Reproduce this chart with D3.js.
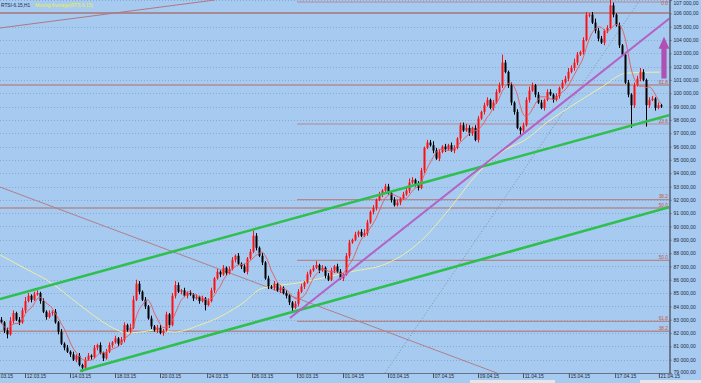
<!DOCTYPE html>
<html><head><meta charset="utf-8">
<script src="https://cdn.jsdelivr.net/npm/d3@7"></script>
<style>
html,body{margin:0;padding:0;background:#a6caf0;overflow:hidden}
svg{display:block}
text{font-family:"Liberation Sans",Arial,sans-serif}
</style></head><body>
<svg id="c" width="701" height="383"></svg>
<script>
// ---- DATA (prices in thousands of points) ----
const closes = [
82.8,82.2,81.9,82.9,83.5,83.0,82.8,83.7,84.4,84.8,
84.5,84.9,85.0,84.4,83.6,83.2,83.5,83.6,82.8,82.1,
81.2,80.9,80.6,80.4,80.0,80.3,79.6,79.4,80.0,80.3,
80.2,80.9,81.1,80.5,80.1,80.6,81.1,81.3,81.6,81.2,
81.5,82.6,82.2,82.4,84.5,85.7,85.1,84.5,84.0,83.1,
82.5,82.2,82.4,82.0,82.2,83.4,82.6,84.8,
85.6,85.1,85.2,84.8,85.0,84.9,84.6,84.7,84.4,84.6,
84.1,84.4,85.2,86.1,86.6,86.4,86.9,86.5,86.8,87.5,
87.8,87.2,87.0,86.6,87.6,88.1,89.3,88.4,87.8,87.3,
86.1,85.5,85.4,85.7,85.2,85.4,85.0,84.8,84.3,83.9,
84.2,85.1,85.5,85.8,86.4,86.7,86.9,87.1,86.7,86.9,
86.3,86.0,86.7,87.0,86.6,86.1,86.4,87.8,88.8,89.0,
89.4,89.6,89.3,89.5,90.3,91.1,91.4,92.0,92.4,92.7,
93.0,92.5,92.0,91.6,91.8,92.1,92.4,92.7,93.3,93.5,
93.2,92.9,94.2,95.9,96.3,96.1,95.7,95.1,95.6,96.0,
95.8,96.1,95.7,95.9,96.6,97.6,97.2,97.4,97.0,97.4,
96.5,98.1,98.6,99.1,99.5,98.9,99.3,100.1,100.6,102.3,
101.6,100.6,99.3,98.6,97.4,97.2,97.6,99.5,100.2,100.6,
99.9,99.3,98.9,99.5,100.1,99.9,99.5,99.8,100.4,100.8,
101.1,101.6,101.9,102.3,102.9,103.1,104.0,105.9,105.9,105.3,
104.7,104.1,103.8,104.7,104.9,106.6,105.9,105.1,103.6,102.9,
100.8,99.9,99.1,100.6,101.1,101.6,101.0,99.1,99.5,99.6,
98.9,99.1,99.0];
const firstOpen = 83.0;
// wick lengths in hundreds of points
const wickUp = [
2,1,2,3,2,1,2,2,3,2, 1,2,2,1,2,1,2,1,2,1, 2,1,2,1,2,1,2,1,2,2, 1,2,1,2,1,2,2,1,2,1,
2,2,1,3,3,3,2,1,2,1, 2,1,2,2,1,2,1,2,3,2, 1,2,1,2,1,2,1,2,1,2, 2,1,2,1,2,1,2,2,1,2,
1,2,1,2,4,2,1,2,1,2, 1,2,1,2,1,2,1,1,2,2, 2,1,2,1,2,3,1,2,1,2, 2,1,2,2,1,2,2,1,2,1,
2,3,2,1,2,1,2,1,2,2, 1,2,2,1,2,2,3,2,1,2, 2,1,2,2,3,2,2,1,2,1, 2,2,1,2,2,3,2,1,2,2,
1,2,2,1,2,2,2,6,2,1, 2,1,2,1,2,2,3,2,1,2, 2,1,2,2,1,2,1,2,2,3, 2,3,2,1,2,2,1,2,3,2,
2,1,2,4,2,1,2,1,2,2, 1,2,2,3,2,1,2,2,1,2, 1];
const wickDn = [
1,2,3,1,2,1,2,1,2,1, 2,1,1,2,1,2,1,2,1,2, 1,2,1,2,1,2,1,3,2,1, 2,1,2,1,2,1,1,2,1,2,
1,2,1,2,1,1,2,1,2,1, 2,1,2,1,2,1,2,1,2,1, 2,1,2,1,2,1,2,1,4,1, 1,2,1,2,1,2,1,1,2,1,
2,1,2,1,1,2,1,2,1,2, 1,2,1,2,1,2,2,3,1,2, 1,2,1,2,1,1,2,1,2,1, 1,2,1,1,2,1,2,1,1,2,
1,1,2,1,2,2,1,2,1,1, 2,1,1,2,1,1,2,1,2,2, 1,2,1,1,2,1,2,1,2,1, 1,2,1,2,1,1,2,2,1,2,
1,2,1,1,2,1,1,2,1,2, 2,2,1,3,2,1,2,1,2,1, 1,2,1,1,2,1,2,1,1,2, 1,2,2,1,2,1,2,1,2,2,
1,2,2,1,2,1,2,1,1,2, 17,2,1,2,1,16,2,1,2,1, 1];
// slow moving average: [bar index, price]
const slowMA = [[-0.3,87.86],[9,86.73],[15.3,85.98],[26.3,84.10],[33,82.98],[38.7,82.23],[42,82.0],
[46.3,82.07],[52,82.23],[57.7,82.07],[66.3,82.6],[70.7,82.98],[79.7,84.10],[87.3,85.38],[98.7,85.75],
[107.3,86.13],[116.3,86.58],[129.7,87.33],[140.3,88.98],[149.7,91.38],[159,94.01],[168,95.74],
[174.7,96.49],[183,97.99],[189.7,98.97],[199.7,100.39],[208.7,101.52],[219.7,101.59]];
const fastPeriod = 6;
const priceTicks = [79,80,81,82,83,84,85,86,87,88,89,90,91,92,93,94,95,96,97,98,99,100,101,102,103,104,105,106,107];
const dateLabels = ["10.03.15","12.03.15","14.03.15","18.03.15","20.03.15","24.03.15","26.03.15","30.03.15",
"01.04.15","03.04.15","07.04.15","09.04.15","11.04.15","15.04.15","17.04.15","21.04.15"];
const dateIdx = [-3,8,23,38,53,68.7,83.7,98.7,114,129,144,159,174,189.3,204.7,219.3];
const fibALevels = ["0.0","23.6","38.2","50.0","61.8"];
const fibAPrices = [106.85,97.69,92.02,87.45,82.87];
const fibAStart = 98.7;
const fibBLevels = ["61.8","50.0","38.2"];
const fibBPrices = [100.62,91.38,82.14];
const hLinePrice = 106.02;
const greenUpper = [[-0.33,84.55],[223,98.37]];
const greenLower = [[26.33,79.15],[223,91.46]];
const purpleLine = [[96.33,83.13],[223,105.65]];
const brownDown = [[-0.33,92.96],[165.3,79.0]];
const brownUp = [[-0.33,104.90],[71.3,107.0]];
const dottedLine = [[128,79.0],[213,107.0]];
const arrowIdx = 221, arrowFrom = 101.1, arrowTo = 104.25;

// ---- DRAW ----
const W = 701, H = 383, PR = 669.5, PB = 373;
const svg = d3.select("#c");
const x = d3.scaleLinear().domain([0, closes.length - 1]).range([1, 1 + 3 * (closes.length - 1)]);
const y = d3.scaleLinear().domain([79, 107]).range([PB, 0]);

svg.append("rect").attr("width", W).attr("height", H).attr("fill", "#a6caf0");
svg.append("defs").append("clipPath").attr("id", "pc")
  .append("rect").attr("x", 0).attr("y", 0).attr("width", PR).attr("height", PB);
const g = svg.append("g").attr("clip-path", "url(#pc)");

// grid
g.selectAll("line.grid").data(priceTicks).join("line")
  .attr("x1", 0).attr("x2", PR).attr("y1", d => Math.round(y(d)) + 0.5).attr("y2", d => Math.round(y(d)) + 0.5)
  .attr("stroke", "#8aa9d2").attr("stroke-width", 1).attr("stroke-dasharray", "1,2");

// horizontal levels
g.append("line").attr("x1", 0).attr("x2", PR).attr("y1", y(hLinePrice)).attr("y2", y(hLinePrice))
  .attr("stroke", "#a88a94").attr("stroke-width", 2);
g.selectAll("line.fb").data(fibBPrices).join("line")
  .attr("x1", 0).attr("x2", PR).attr("y1", d => y(d)).attr("y2", d => y(d))
  .attr("stroke", "#b08a90").attr("stroke-width", 1.5);
g.selectAll("line.fa").data(fibAPrices).join("line")
  .attr("x1", x(fibAStart)).attr("x2", PR).attr("y1", d => y(d)).attr("y2", d => y(d))
  .attr("stroke", "#b4878c").attr("stroke-width", 1.2);

// thin diagonal lines
const seg = (pts, stroke, w, dash) => g.append("line")
  .attr("x1", x(pts[0][0])).attr("y1", y(pts[0][1])).attr("x2", x(pts[1][0])).attr("y2", y(pts[1][1]))
  .attr("stroke", stroke).attr("stroke-width", w).attr("stroke-dasharray", dash || null);
seg(brownDown, "#b08088", 1);
seg(brownUp, "#b07880", 1);
seg(dottedLine, "#8a8e9a", 1, "1,2");

// slow MA
g.append("path").datum(slowMA)
  .attr("d", d3.line().x(d => x(d[0])).y(d => y(d[1])).curve(d3.curveMonotoneX))
  .attr("fill", "none").attr("stroke", "#eeeea6").attr("stroke-width", 1);

// candles
const bars = closes.map((c, i) => {
  const o = i === 0 ? firstOpen : closes[i - 1];
  return { i, o, c, h: Math.max(o, c) + wickUp[i] / 10, l: Math.min(o, c) - wickDn[i] / 10, up: c >= o };
});
const cg = g.append("g");
cg.selectAll("line.wick").data(bars).join("line")
  .attr("x1", d => x(d.i) + 0.5).attr("x2", d => x(d.i) + 0.5)
  .attr("y1", d => y(d.h)).attr("y2", d => y(d.l))
  .attr("stroke", d => d.up ? "#ff1010" : "#000").attr("stroke-width", 1);
cg.selectAll("rect.body").data(bars).join("rect")
  .attr("x", d => x(d.i) - 0.5).attr("width", 2)
  .attr("y", d => y(Math.max(d.o, d.c)))
  .attr("height", d => Math.max(1, Math.abs(y(d.o) - y(d.c))))
  .attr("fill", d => d.up ? "#ff1010" : "#000");

// fast MA
const fast = closes.map((c, i) => {
  const w = closes.slice(Math.max(0, i - fastPeriod + 1), i + 1);
  return [i, d3.mean(w)];
});
g.append("path").datum(fast)
  .attr("d", d3.line().x(d => x(d[0])).y(d => y(d[1])).curve(d3.curveMonotoneX))
  .attr("fill", "none").attr("stroke", "#e85858").attr("stroke-width", 0.9);

// trend lines
seg(greenUpper, "#2fbf4f", 2.6);
seg(greenLower, "#2fbf4f", 2.6);
seg(purpleLine, "#b462c4", 2);

// fib labels
const fibLabel = (lv, pr) => svg.append("g").selectAll("text").data(lv).join("text")
  .attr("x", PR - 1.5).attr("y", (d, i) => Math.max(4.6, y(pr[i]) - 1.2)).attr("text-anchor", "end")
  .attr("font-size", 4.8).attr("fill", "#c25a46").text(d => d);
fibLabel(fibALevels, fibAPrices);
fibLabel(fibBLevels, fibBPrices);

// arrow
const ax = x(arrowIdx), ay1 = y(arrowFrom), ay2 = y(arrowTo);
svg.append("path")
  .attr("d", `M${ax - 2.6},${ay1} L${ax - 2.6},${ay2 + 12} L${ax - 5.4},${ay2 + 12} L${ax},${ay2} L${ax + 5.4},${ay2 + 12} L${ax + 2.6},${ay2 + 12} L${ax + 2.6},${ay1} Z`)
  .attr("fill", "#b150b4");

// axes
const yAxis = svg.append("g").attr("transform", `translate(${PR},0)`)
  .call(d3.axisRight(y).tickValues(priceTicks).tickSize(2).tickPadding(2)
    .tickFormat(d => d + " 000,00"));
yAxis.select(".domain").attr("stroke", "#5c6478").attr("stroke-width", 1.6);
yAxis.selectAll(".tick line").attr("stroke", "#5c6478");
yAxis.selectAll("text").attr("font-size", 5).attr("fill", "#1e2a3e").attr("font-family", "Liberation Sans, Arial, sans-serif")
  .attr("dy", d => d === 107 ? "0.95em" : (d === 79 ? "0.05em" : "0.32em"));

const xAxis = svg.append("g").attr("transform", `translate(0,${PB})`)
  .call(d3.axisBottom(x).tickValues(dateIdx).tickSize(5).tickSizeOuter(0)
    .tickFormat((d, i) => dateLabels[i]));
xAxis.select(".domain").attr("stroke", "#6a7488").attr("stroke-width", 1.2).attr("d", `M0,0.5H${PR}`);
xAxis.selectAll(".tick line").attr("stroke", "#4a5468");
xAxis.selectAll("text").attr("font-size", 5).attr("fill", "#1e2a3e").attr("text-anchor", "start")
  .attr("x", 1.2).attr("y", 1.6).attr("font-family", "Liberation Sans, Arial, sans-serif");

// header
svg.append("text").attr("x", 1).attr("y", 6.5).attr("font-size", 4.8).attr("fill", "#1e2a4e").text("RTSI-6.15,H1");
svg.append("text").attr("x", 35).attr("y", 6.5).attr("font-size", 4.8).attr("fill", "#f0f040").text("Moving Average(RTS-6.15)");

// status strip
svg.append("rect").attr("x", 470).attr("y", 380).attr("width", 85).attr("height", 3).attr("fill", "#e4e6ea");
svg.append("rect").attr("x", 640).attr("y", 380).attr("width", 61).attr("height", 3).attr("fill", "#e4e6ea");
</script></body></html>
